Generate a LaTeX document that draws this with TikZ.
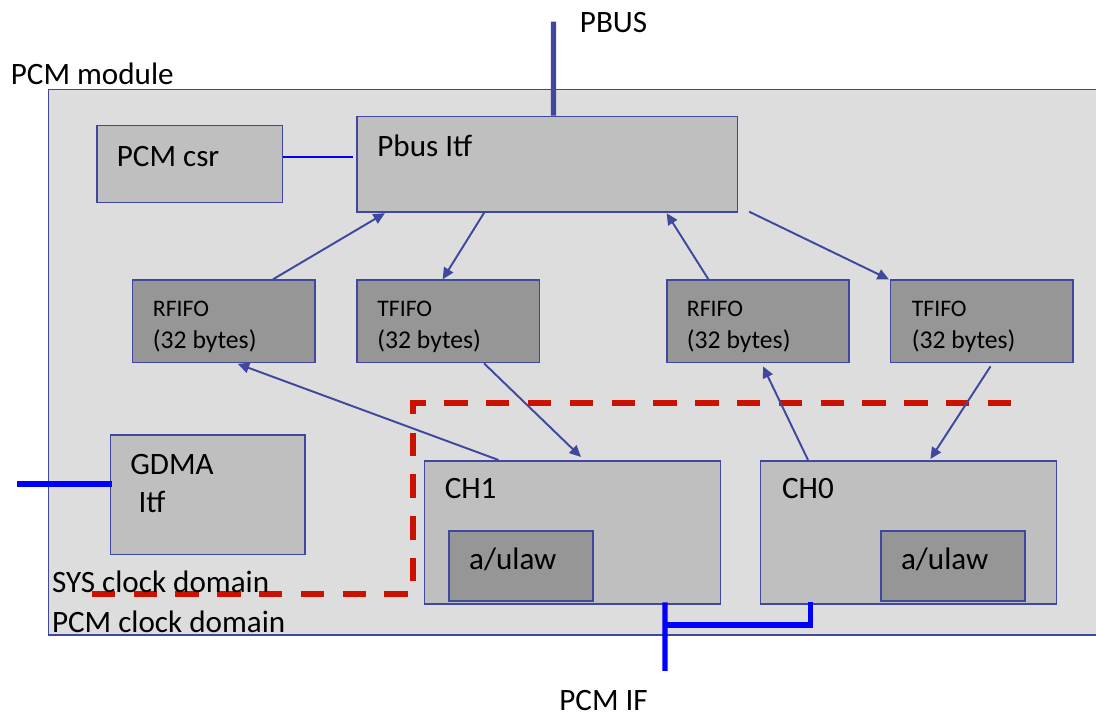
\documentclass[tikz,border=0pt]{standalone}
\usepackage{fontspec}
\setmainfont{Carlito}
\usetikzlibrary{positioning,calc,arrows.meta}
\definecolor{edgeblue}{RGB}{63,72,158}
\definecolor{modfill}{RGB}{221,221,221}
\definecolor{blockfill}{RGB}{191,191,191}
\definecolor{fifofill}{RGB}{150,150,150}
\definecolor{domainred}{RGB}{204,17,0}
\newcommand{\fifosize}{\fontsize{14.6pt}{18pt}\selectfont}

\begin{document}
\begin{tikzpicture}[
    x=0.02cm, y=-0.02cm,
    block/.style={draw=edgeblue, line width=0.9pt, fill=blockfill, inner sep=0pt},
    fifo/.style={block, fill=fifofill, minimum width=3.65cm, minimum height=1.65cm},
    lbl/.style={inner sep=0pt, anchor=base west, font=\fontsize{17.7pt}{21pt}\selectfont},
    fifolbl/.style={inner sep=0pt, anchor=north west, align=left, font=\fontsize{13.5pt}{18pt}\selectfont},
    flow/.style={draw=edgeblue, line width=1.1pt, -{Triangle[length=6.5pt,width=6pt]}},
    bus/.style={line width=2.9pt},
    clockline/.style={draw=domainred, line width=3.4pt, dash pattern=on 13.3pt off 10.5pt},
]
        % Picture size (pixels of the reference)
        \useasboundingbox (0,0) rectangle (1096,715);

        % Module frame
        \node[block, fill=modfill, minimum width=21.03cm, minimum height=10.91cm] (module) at (574.35,362.15) {};
        \node[lbl] (modlbl) at (10.5,85) {PCM module};

        % Blocks
        \node[block, minimum width=3.71cm, minimum height=1.54cm] (csr) at (189.6,164.2) {};
        \node[block, minimum width=7.61cm, minimum height=1.91cm] (pbus) at (547.15,164.15) {};
        \node[fifo] (rfifoL) at (223.8,321.35) {};
        \node[fifo] (tfifoL) at (448.25,321.35) {};
        \node[fifo] (rfifoR) at (758,321.35) {};
        \node[fifo] (tfifoR) at (981.9,321.35) {};
        \node[block, minimum width=3.9cm, minimum height=2.39cm] (gdma) at (207.8,494.65) {};
        \node[block, minimum width=5.92cm, minimum height=2.87cm] (ch1) at (572.45,532.5) {};
        \node[block, minimum width=5.92cm, minimum height=2.87cm] (ch0) at (908.4,532.5) {};
        \node[block, fill=fifofill, minimum width=2.88cm, minimum height=1.4cm] (law1) at (520.9,566) {};
        \node[block, fill=fifofill, minimum width=2.88cm, minimum height=1.4cm] (law0) at (952.85,566) {};

        % Clock domain border
        \draw[clockline] (91.7,594.3) -- (413.3,594.3) -- (413.3,403.3) -- (1016,403.3);

        % Texts
        \node[lbl] (pbuslbl) at (579.6,32.7) {PBUS};
        \node[lbl] (csrlbl) at (116.5,166.7) {PCM csr};
        \node[lbl] (pbusitf) at (377,157) {Pbus\ Itf};
        \node[fifolbl] (rfifoLtxt) at (152.6,301) {RFIFO\\{\fifosize(32 bytes)}};
        \node[fifolbl] (tfifoLtxt) at (377,301) {TFIFO\\{\fifosize(32 bytes)}};
        \node[fifolbl] (rfifoRtxt) at (686.6,301) {RFIFO\\{\fifosize(32 bytes)}};
        \node[fifolbl] (tfifoRtxt) at (911.5,301) {TFIFO\\{\fifosize(32 bytes)}};
        \node[lbl] (gdmalbl) at (130,474.3) {GDMA};
        \node[lbl] (gdmaitf) at (138.3,512.7) {Itf};
        \node[lbl] (ch1lbl) at (444.4,499) {CH1};
        \node[lbl] (ch0lbl) at (781.7,499) {CH0};
        \node[lbl] (law1lbl) at (468.8,570) {a/ulaw};
        \node[lbl] (law0lbl) at (900.7,570) {a/ulaw};
        \node[lbl] (syslbl) at (51.7,592.7) {SYS clock domain};
        \node[lbl] (pcmlbl) at (51.7,632.7) {PCM clock domain};
        \node[lbl] (pcmiflbl) at (559,710.5) {PCM IF};

        % Buses
        \coordinate (pbusEnd) at (553.5,21.7);
        \coordinate (gdmaEnd) at (17.3,484.3);
        \coordinate (pcmifEnd) at (665,671);
        \coordinate (pcmifJoin) at (665,625);
        \draw[bus, edgeblue] ($(pbus.north)+(6.35,0)$) -- (pbusEnd);
        \draw[bus, blue, line width=3.4pt] (gdmaEnd) -- ($(gdma.west)+(2.4,-10.35)$);
        \draw[bus, blue] ($(ch1.south)+(92.55,-2.6)$) -- (pcmifEnd);
        \draw[bus, blue] ($(ch0.south)+(-97.8,-2.6)$) |- (pcmifJoin);
        \draw[blue, line width=0.7pt] ($(csr.east)+(0,-7.2)$) -- ($(pbus.west)+(-3.4,-7.15)$);

        % Data flow
        \draw[flow] ($(rfifoL.north)+(49.2,0)$) -- ($(pbus.south)+(-162.3,0.5)$);
        \draw[flow] ($(pbus.south)+(-63,0)$) -- ($(tfifoL.north)+(-5.6,0)$);
        \draw[flow] ($(rfifoR.north)+(-49.6,0)$) -- ($(pbus.south)+(119.5,0.5)$);
        \draw[flow] ($(pbus.south east)+(11,-1)$) -- ($(tfifoR.north west)+(-1,0)$);
        \draw[flow] ($(ch1.north)+(-74,0)$) -- ($(rfifoL.south)+(14,0.5)$);
        \draw[flow] ($(tfifoL.south)+(35.8,0)$) -- ($(ch1.north)+(8.5,-3)$);
        \draw[flow] ($(ch0.north)+(-100.4,0)$) -- ($(rfifoR.south)+(5,3)$);
        \draw[flow] ($(tfifoR.south)+(8.6,3)$) -- ($(ch0.north)+(22,-1)$);
\end{tikzpicture}
\end{document}
